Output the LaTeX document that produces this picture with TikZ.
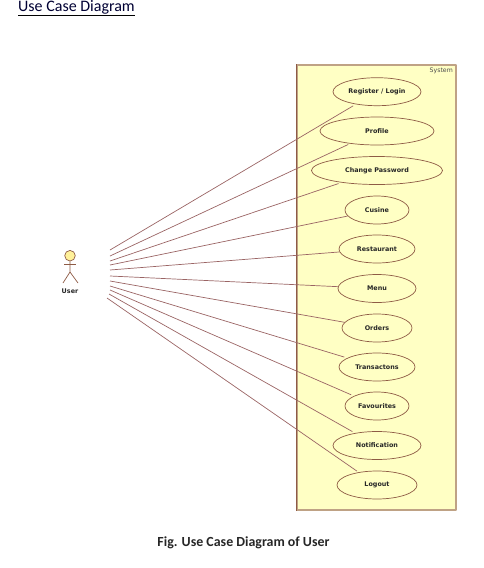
\documentclass[tikz,border=0pt]{standalone}
\usepackage{fontspec}
\setmainfont{Carlito}
\newfontfamily\umlfont{DejaVu Sans}
\usetikzlibrary{shapes.geometric}
\definecolor{sysfill}{HTML}{FFFFC4}
\definecolor{sysline}{HTML}{BFA285}
\definecolor{caseline}{HTML}{8E5B45}
\definecolor{linkline}{HTML}{9A6464}
\definecolor{headfill}{HTML}{FFF19A}
\tikzset{
 usecase/.style={ellipse, draw=caseline, line width=.7pt, fill=sysfill, minimum height=28pt, inner sep=0pt, font=\umlfont\bfseries\fontsize{6.4}{7}\selectfont, text=black!85},
 link/.style={draw=linkline, line width=.7pt},
 limb/.style={draw=caseline, line width=.7pt}
}
\begin{document}
\begin{tikzpicture}[x=1pt, y=-1pt, line join=round]
 \useasboundingbox (0,0) rectangle (484,568);
 \node[inner sep=0pt, font=\fontsize{16}{18}\selectfont, text=black!80!blue, anchor=west] (title) at (18,7) {Use Case Diagram};
 \draw[line width=.9pt] (18,15) coordinate (ulA) -- (135,15) coordinate (ulB);
 % system box
 \node[draw=sysline, line width=1.3pt, fill=sysfill, minimum width=159pt, minimum height=445pt, inner sep=0pt] (system) at (376.5,287.5) {};
 \draw[limb] (system.north west) -- (system.south west);
 \node[anchor=north east, inner sep=0pt, font=\umlfont\fontsize{6.2}{7}\selectfont, text=black!70] (systemlabel) at (453,68) {System};
 % actor
 \node[circle, draw=caseline, line width=.7pt, fill=headfill, minimum size=10.6pt, inner sep=0pt] (head) at (70,255.7) {};
 \coordinate (hip) at (70,272);
 \coordinate (armL) at (64,264);
 \coordinate (armR) at (76,264);
 \coordinate (legL) at (63,283);
 \coordinate (legR) at (78,283);
 \draw[limb] (head) -- (hip) -- (legL);
 \draw[limb] (hip) -- (legR);
 \draw[limb] (armL) -- (armR);
 \node[inner sep=0pt, font=\umlfont\bfseries\fontsize{6.4}{7}\selectfont, text=black!85] (user) at (70,291) {User};
 % use cases
 \foreach\n/\y/\w/\sx/\sy/\g/\t in {
  login/91.7/88/110/250/3/{Register / Login},
  profile/131/114/110/256/2/Profile,
  password/170.5/131/110/261/3/Change Password,
  cusine/210/64/110/265/0/Cusine,
  restaurant/249/76/110/270/0/Restaurant,
  menu/288.5/78/110/276/0/Menu,
  orders/328/70/110/281/0/Orders,
  transactons/367/76/110/286/3/Transactons,
  favourites/406/64/110/290/3/Favourites,
  notification/445.5/88/109/294/3/Notification,
  logout/485/80/107/298/2/Logout}
 {
  \node[usecase, minimum width=\w pt] (\n) at (377,\y) {\raisebox{-.8pt}{\t}};
  \coordinate (from\n) at (\sx,\sy);
  \draw[link, shorten >=\g pt] (from\n) -- (\n);
 }
 \node[inner sep=0pt, font=\bfseries\fontsize{13.9}{16}\selectfont, text=black!85] (caption) at (243.5,542.5) {Fig. Use Case Diagram of User};
\end{tikzpicture}
\end{document}
